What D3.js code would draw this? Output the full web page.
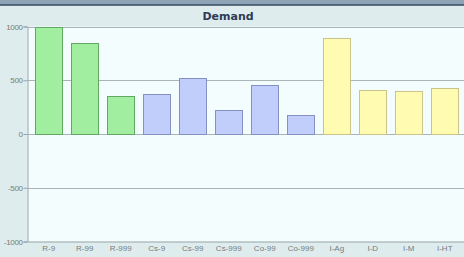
<!DOCTYPE html>
<html>
<head>
<meta charset="utf-8">
<script src="https://cdn.jsdelivr.net/npm/d3@7"></script>
<style>
  body { margin: 0; background: #dfeced; }
  svg { display: block; font-family: "DejaVu Sans", sans-serif; }
  .tick text { fill: #737e80; font-size: 8px; }
  .grid line { stroke: #a9b4b8; }
</style>
</head>
<body>
<svg id="chart" width="464" height="257"></svg>
<script>
// Donnees
const categories = ["R-9", "R-99", "R-999", "Cs-9", "Cs-99", "Cs-999", "Co-99", "Co-999", "I-Ag", "I-D", "I-M", "I-HT"];
const demand = [1000, 845, 355, 370, 520, 220, 460, 180, 890, 405, 397, 425];
const groups = ["R", "R", "R", "Cs", "Cs", "Cs", "Co", "Co", "I", "I", "I", "I"];
const yTicks = [-1000, -500, 0, 500, 1000];

const fills = { R: "#a2eea0", Cs: "#c1cdfb", Co: "#c1cdfb", I: "#fffbb0" };
const strokes = { R: "#62a862", Cs: "#8591c4", Co: "#8591c4", I: "#cbc48a" };

const svg = d3.select("#chart");
const plot = { left: 27.5, right: 466, top: 26.5, bottom: 241.5 };

// Bandeau du haut (fenetre)
svg.append("rect").attr("x", 0).attr("y", 0).attr("width", 464).attr("height", 5).attr("fill", "#8ea4b6");
svg.append("line").attr("x1", 0).attr("x2", 464).attr("y1", 5).attr("y2", 5).attr("stroke", "#34485e").attr("stroke-width", 1.5);

svg.append("text")
    .attr("x", 228).attr("y", 20)
    .attr("text-anchor", "middle")
    .attr("font-size", 11).attr("font-weight", "bold")
    .attr("fill", "#2d3b55")
    .text("Demand");

// Zone du graphique
svg.append("rect")
    .attr("x", plot.left).attr("y", plot.top)
    .attr("width", plot.right - plot.left).attr("height", plot.bottom - plot.top)
    .attr("fill", "#f3fdfe");

const x = d3.scaleBand()
    .domain(categories)
    .range([plot.left, plot.right])
    .paddingInner(0.26)
    .paddingOuter(0.22);

const y = d3.scaleLinear()
    .domain([-1000, 1000])
    .range([plot.bottom, plot.top]);

// Lignes de grille
svg.append("g")
    .attr("class", "grid")
    .selectAll("line")
    .data(yTicks.filter(function(d) { return d !== -1000; }))
    .enter()
    .append("line")
    .attr("x1", plot.left).attr("x2", 464)
    .attr("y1", function(d) { return Math.round(y(d)) + 0.5; })
    .attr("y2", function(d) { return Math.round(y(d)) + 0.5; });

// Barres
svg.selectAll(".bar")
    .data(categories)
    .enter()
    .append("rect")
    .attr("class", "bar")
    .attr("x", function(d) { return Math.round(x(d)) + 0.5; })
    .attr("width", Math.round(x.bandwidth()))
    .attr("y", function(d, i) { return Math.round(y(demand[i])) + 0.5; })
    .attr("height", function(d, i) { return Math.round(y(0)) - Math.round(y(demand[i])); })
    .attr("fill", function(d, i) { return fills[groups[i]]; })
    .attr("stroke", function(d, i) { return strokes[groups[i]]; })
    .attr("stroke-width", 1);

// Axe Y
const yAxis = svg.append("g")
    .attr("transform", "translate(" + plot.left + ",0)")
    .call(d3.axisLeft(y).tickValues(yTicks).tickSize(4).tickPadding(1)
        .tickFormat(function(d) { return String(d); }));
yAxis.select(".domain").attr("stroke", "#9aa6aa");
yAxis.selectAll(".tick line").attr("stroke", "#9aa6aa");
yAxis.selectAll(".tick text").attr("letter-spacing", -0.4);

// Axe X
const xAxis = svg.append("g")
    .attr("transform", "translate(0," + plot.bottom + ")")
    .call(d3.axisBottom(x).tickSize(0).tickPadding(4));
xAxis.select(".domain").attr("stroke", "#9aa6aa");
</script>
</body>
</html>
